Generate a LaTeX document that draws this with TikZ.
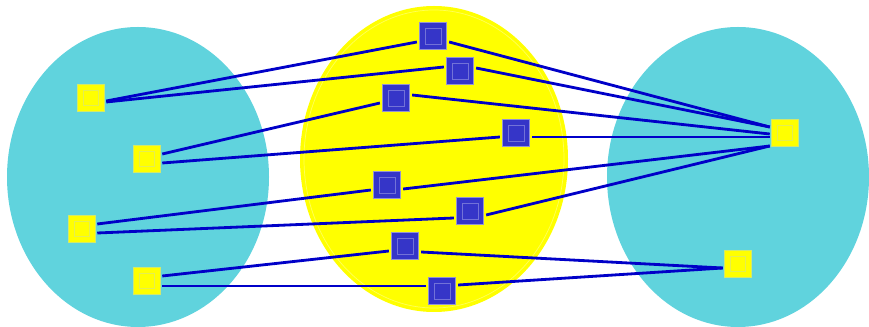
\documentclass[tikz,border=0pt]{standalone}
\usetikzlibrary{arrows.meta,positioning}
\definecolor{poolcyan}{HTML}{60D3DD}
\definecolor{poolyellow}{HTML}{FFFF00}
\definecolor{sqblue}{HTML}{3535C8}
\definecolor{linkblue}{HTML}{0000C8}

\begin{document}
\begin{tikzpicture}[
  x=0.02cm, y=-0.02cm,
  yellowsq/.style={draw=yellow!70!green!60!white, fill=poolyellow, minimum size=0.54cm, inner sep=0pt, outer sep=1pt,
    path picture={\draw[yellow!85!green!70!white, line width=0.4pt] ([xshift=-0.15cm,yshift=-0.15cm]path picture bounding box.center) rectangle ([xshift=0.15cm,yshift=0.15cm]path picture bounding box.center);}},
  bluesq/.style={draw=gray!60!blue!60!white, fill=sqblue, minimum size=0.54cm, inner sep=0pt, outer sep=1.5pt,
    path picture={\draw[sqblue!70!white, line width=0.4pt] ([xshift=-0.16cm,yshift=-0.16cm]path picture bounding box.center) rectangle ([xshift=0.16cm,yshift=0.16cm]path picture bounding box.center);}},
  link/.style={draw=linkblue, line width=1.6pt}
]
\useasboundingbox (0,0) rectangle (869,327);

% the three pools
\fill[poolcyan] (138,177) ellipse [x radius=131, y radius=150];
\fill[poolyellow] (434,159) ellipse [x radius=134, y radius=153];
\draw[white, opacity=0.35, line width=0.4pt] (434,159) ellipse [x radius=130, y radius=149];
\fill[poolcyan] (738,177) ellipse [x radius=131, y radius=150];

% left squares
\node[yellowsq] (l1) at (91,98) {};
\node[yellowsq] (l2) at (147,159) {};
\node[yellowsq] (l3) at (82,229) {};
\node[yellowsq] (l4) at (147,281) {};

% middle squares
\node[bluesq] (m1) at (433,36) {};
\node[bluesq] (m2) at (460,71) {};
\node[bluesq] (m3) at (396,98) {};
\node[bluesq] (m4) at (516,133) {};
\node[bluesq] (m5) at (387,185) {};
\node[bluesq] (m6) at (470,211) {};
\node[bluesq] (m7) at (405,246) {};
\node[bluesq] (m8) at (442,291) {};

% right squares
\node[yellowsq] (r1) at (785,133) {};
\node[yellowsq] (r2) at (738,264) {};

% links, from east side to west side; shifts in px
\foreach \a/\sa/\b/\sb in {l1/-3/m1/-6, l1/-4/m2/4, l2/5/m3/-5, l2/-4/m4/-4,
                           l3/5/m5/-5, l3/-4/m6/-7, l4/5/m7/-5, l4/-5/m8/5,
                           m1/-6/r1/6, m2/3/r1/6, m3/3/r1/-1, m4/-4/r1/-4,
                           m5/-4/r1/-13, m6/-4/r1/-13, m7/-6/r2/-4, m8/6/r2/-4}
  \draw[link] ([yshift=\sa*0.02cm]\a.east) -- ([yshift=\sb*0.02cm]\b.west);

\end{tikzpicture}
\end{document}
